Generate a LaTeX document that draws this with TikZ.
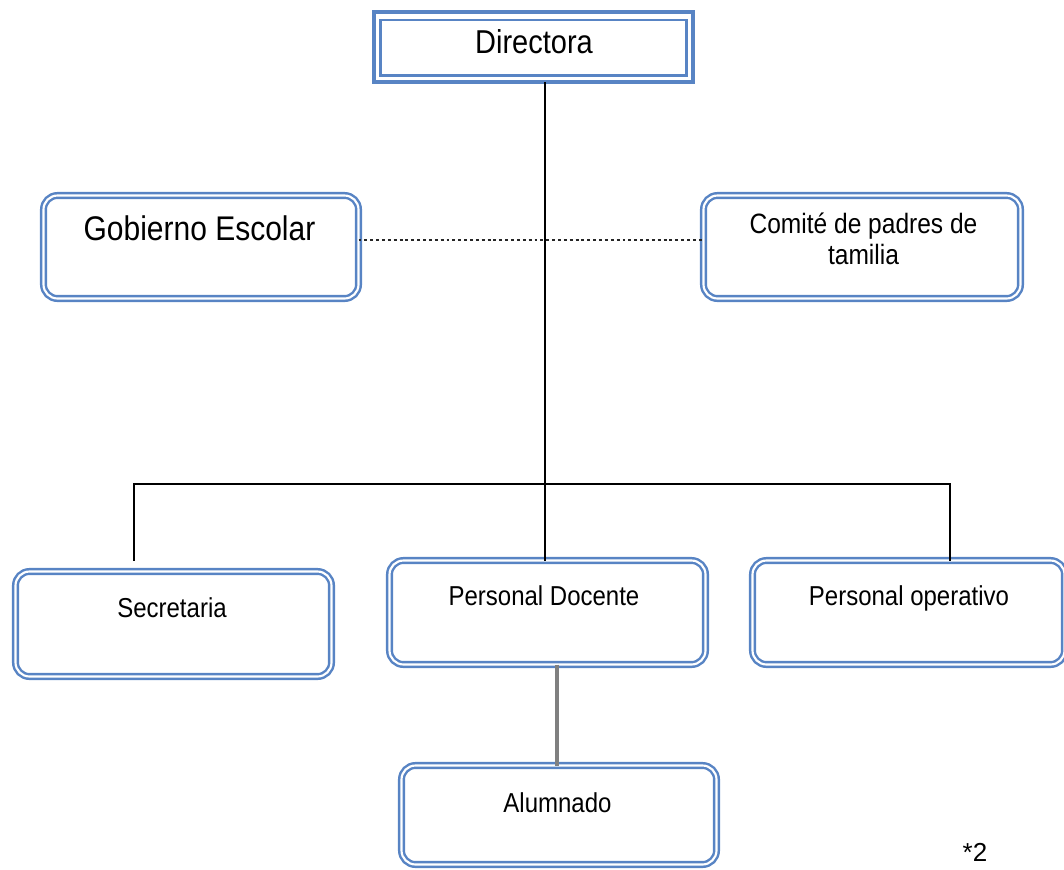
\documentclass[tikz,border=0pt]{standalone}
\usepackage{fontspec}
\setmainfont{Liberation Sans}
\usepackage{graphicx}
\usetikzlibrary{calc}
\definecolor{boxblue}{RGB}{88,132,196}
\definecolor{linkgray}{RGB}{128,128,128}
\newcommand{\stretchtxt}[1]{\scalebox{1}[1.14]{#1}}
\begin{document}
\begin{tikzpicture}[x=0.75pt,y=-0.75pt,
  rbox/.style={draw=boxblue, double=white, double distance=1.6pt, line width=1.85pt,
    rounded corners=10.5pt, inner sep=0pt, outer sep=0pt},
  dirbox/.style={draw=boxblue, line width=3pt, inner sep=0pt, outer sep=0pt,
    minimum width=239.25pt, minimum height=52.5pt},
  lbl/.style={anchor=base, inner sep=0pt, font=\fontsize{18}{21}\selectfont},
  conn/.style={line width=1.4pt, black},
  dotconn/.style={line width=1.5pt, black!85, dash pattern=on 2.2pt off 2.2pt},
  grayconn/.style={line width=3.5pt, linkgray},
]
\useasboundingbox (0,0) rectangle (1064,869);

% boxes
\node[dirbox] (dir) at (533.5,47) {};
\draw[boxblue, line width=1.8pt] ($(dir.north west)+(6.5,8)$) rectangle ($(dir.south east)+(-6.5,-6.5)$);
\node[rbox, minimum width=236.25pt, minimum height=77.25pt] (gob) at (201,247) {};
\node[rbox, minimum width=237.75pt, minimum height=77.25pt] (com) at (862,247) {};
\node[rbox, minimum width=237pt, minimum height=78.75pt] (sec) at (173.5,624) {};
\node[rbox, minimum width=237pt, minimum height=78pt] (doc) at (547.5,612.5) {};
\node[rbox, minimum width=234pt, minimum height=78pt] (op) at (908.5,612.5) {};
\node[rbox, minimum width=236.25pt, minimum height=74.25pt] (alu) at (559,815) {};

% texts
\node[lbl, font=\fontsize{21.75}{24}\selectfont] (tdir) at (534,53) {\stretchtxt{Directora}};
\node[lbl, font=\fontsize{22.5}{25}\selectfont] (tgob) at (199.5,240) {\stretchtxt{Gobierno Escolar}};
\node[lbl, font=\fontsize{18.4}{21}\selectfont] (tcom) at (863.5,233)
  {\stretchtxt{\begin{tabular}[t]{@{}c@{}}Comité de padres de\\ tamilia\end{tabular}}};
\node[lbl] (tsec) at (172,617) {\stretchtxt{Secretaria}};
\node[lbl] (tdoc) at (544,605) {\stretchtxt{Personal Docente}};
\node[lbl] (top) at (909,605) {\stretchtxt{Personal operativo}};
\node[lbl] (talu) at (557.5,812) {\stretchtxt{Alumnado}};
\node[lbl, font=\fontsize{19.5}{22}\selectfont] (note) at (975,861) {*2};

% connector coordinates
\coordinate (j) at (545,484);
\coordinate (bl) at (134,484);
\coordinate (br) at (950,484);
\coordinate (dl) at (0,240);
\coordinate (gx) at (557,700);

% connectors
\draw[conn] (dir.south -| j) -- (doc.north -| j);
\draw[conn] (bl |- doc.north) -- (bl) -- (br) -- (br |- op.north);
\draw[dotconn] (gob.east |- dl) -- (com.west |- dl);
\draw[grayconn] (doc.south -| gx) -- (alu.north -| gx);
\end{tikzpicture}
\end{document}
